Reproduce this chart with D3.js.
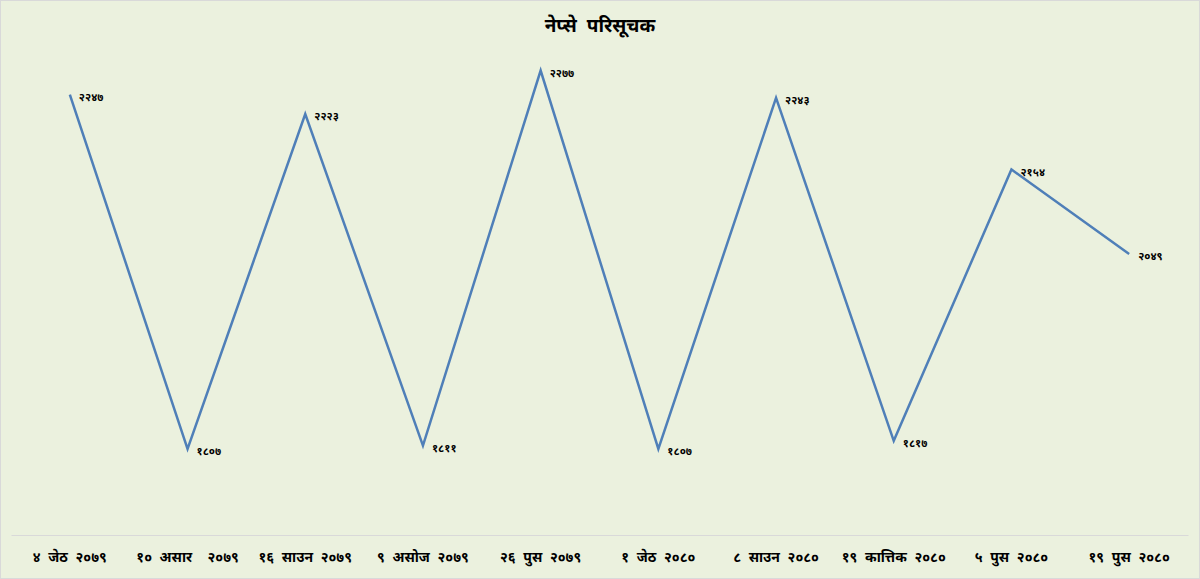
<!DOCTYPE html>
<html>
<head>
<meta charset="utf-8">
<script src="https://cdn.jsdelivr.net/npm/d3@7"></script>
<style>
  body { margin: 0; background: #fff; }
  svg { display: block; font-family: "Noto Sans", "DejaVu Sans", sans-serif; }
</style>
</head>
<body>
<svg id="chart" width="1200" height="579"></svg>
<script>
let title = "नेप्से परिसूचक";
let dates = ["४ जेठ २०७९", "१० असार  २०७९", "१६ साउन २०७९", "९ असोज २०७९", "२६ पुस २०७९",
  "१ जेठ २०८०", "८ साउन २०८०", "१९ कात्तिक २०८०", "५ पुस २०८०", "१९ पुस २०८०"];
let values = [2247, 1807, 2223, 1811, 2277, 1807, 2243, 1817, 2154, 2049];
let yDomain = [1700, 2300];

// devanagari digits for the point labels
let devDigits = "०१२३४५६७८९";
function toDev(n) {
  return String(n).replace(/[0-9]/g, function(c) { return devDigits[+c]; });
}

let width = 1200, height = 579;
let margin = {top: 52, right: 12, bottom: 44, left: 11};
let svg = d3.select("#chart");

svg.append("rect")
  .attr("x", 0.5).attr("y", 0.5)
  .attr("width", width - 1).attr("height", height - 1)
  .attr("fill", "#ebf1de")
  .attr("stroke", "#d9d9d9");

svg.append("text")
  .attr("x", width / 2).attr("y", 32)
  .attr("text-anchor", "middle")
  .attr("font-size", 19).attr("font-weight", "bold")
  .attr("word-spacing", 5)
  .attr("fill", "#000")
  .text(title);

let x = d3.scaleBand()
  .domain(dates)
  .range([margin.left, width - margin.right]);
let y = d3.scaleLinear()
  .domain(yDomain)
  .range([height - margin.bottom, margin.top]);

let g = svg.append("g");

// x axis: thin baseline, no ticks
let xAxis = g.append("g")
  .attr("transform", "translate(0," + (height - margin.bottom) + ")")
  .call(d3.axisBottom(x).tickSize(0).tickPadding(17));
xAxis.select(".domain").attr("stroke", "#d9d9d9");
xAxis.selectAll("text")
  .attr("font-size", 14).attr("font-weight", "bold")
  .attr("fill", "#000")
  .attr("word-spacing", 4)
  .attr("font-family", "\"Noto Sans\", \"DejaVu Sans\", sans-serif")
  .style("white-space", "pre");

let line = d3.line()
  .x(function(d, i) { return x(dates[i]) + x.bandwidth() / 2; })
  .y(function(d) { return y(d); });

g.append("path")
  .attr("d", line(values))
  .attr("fill", "none")
  .attr("stroke", "#4f7fb8")
  .attr("stroke-width", 2.5)
  .attr("stroke-linejoin", "miter");

g.selectAll(".val")
  .data(values)
  .enter().append("text")
  .attr("class", "val")
  .attr("x", function(d, i) { return x(dates[i]) + x.bandwidth() / 2 + 9; })
  .attr("y", function(d) { return y(d) + 6; })
  .attr("font-size", 11).attr("font-weight", "bold")
  .attr("fill", "#000")
  .text(function(d) { return toDev(d); });
</script>
</body>
</html>
